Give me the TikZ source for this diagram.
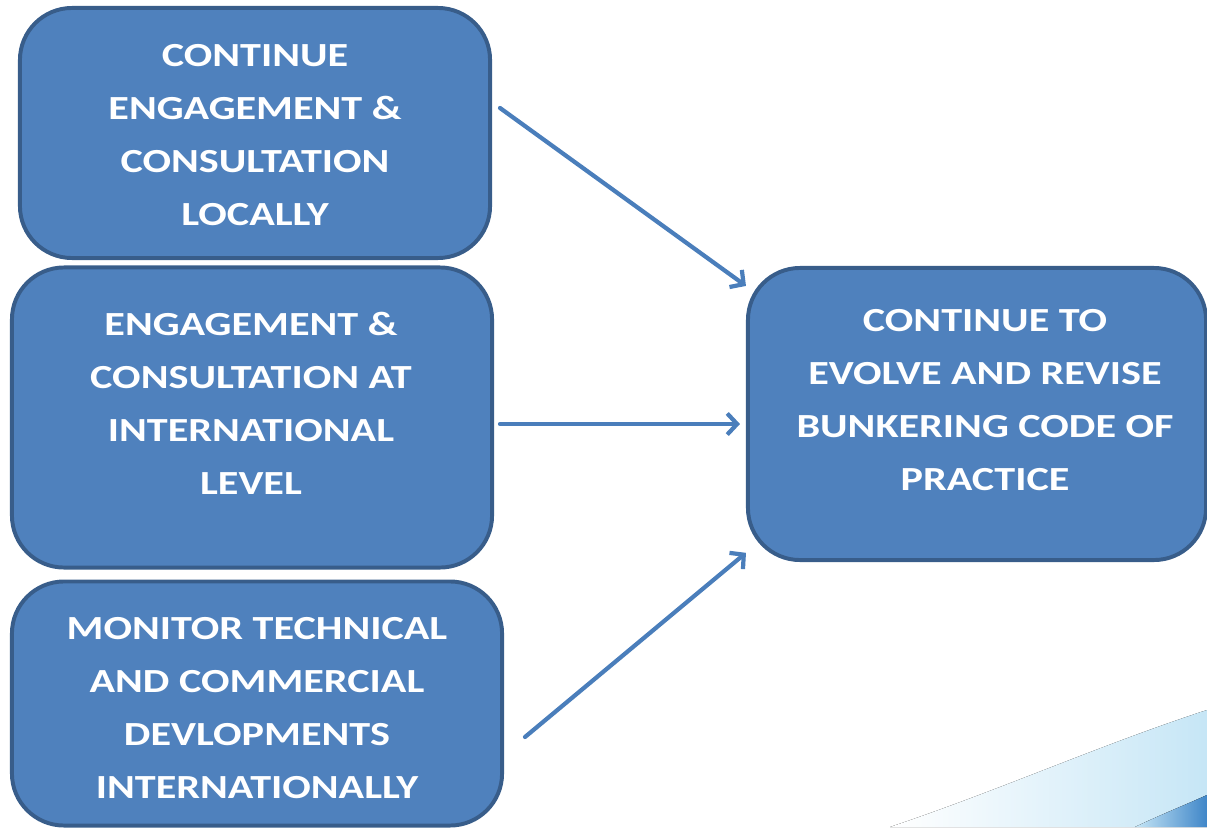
\documentclass[tikz,border=0pt]{standalone}
\usepackage{fontspec}
\setmainfont{Carlito}
\newfontfamily\boxfont{Carlito}[FakeStretch=1.25]
\usepackage{xcolor}
\usepackage{tikz}
\usetikzlibrary{arrows.meta}
\usetikzlibrary{calc}
\usetikzlibrary{positioning}
\definecolor{boxfill}{HTML}{4F81BD}
\definecolor{boxline}{HTML}{385D8A}
\definecolor{arrowblue}{HTML}{4A7EBB}
\definecolor{swoosh}{HTML}{C6E6F6}
\definecolor{swooshdark}{HTML}{3F86C8}

\begin{document}
\begin{tikzpicture}[x=0.025cm,y=-0.025cm,>={Straight Barb[length=7pt,width=15pt]}]
	\tikzstyle{box}=[draw=boxline, fill=boxfill, rounded corners=1.3cm, line width=2.8pt, inner sep=0pt]
	\tikzstyle{txt}=[text=white, font=\boxfont\fontsize{24}{37.7}\selectfont\bfseries, align=center, inner sep=0pt]
	\tikzstyle{arr}=[->, draw=arrowblue, line width=3pt, line cap=round, line join=round]
	\useasboundingbox (0,0) rectangle (1207,827);
	% swoosh in the corner
	\fill[left color=white, right color=swoosh] (890,827) .. controls (1000,790) and (1100,745) .. (1207,710) -- (1207,795) .. controls (1185,805) and (1160,815) .. (1135,827) -- cycle;
	\fill[left color=swoosh, right color=swooshdark] (1135,827) .. controls (1160,815) and (1185,805) .. (1207,795) -- (1207,827) -- cycle;
		\node[box, minimum width=11.75cm, minimum height=6.25cm]  (A) at (255,133) {};
		\node[box, minimum width=12cm, minimum height=7.5cm]      (B) at (252,417.5) {};
		\node[box, minimum width=12.25cm, minimum height=6.1cm]   (C) at (257,703.5) {};
		\node[box, minimum width=11.45cm, minimum height=7.3cm]   (D) at (977,414) {};
		\node[txt] (a) at (255,135)   {CONTINUE\\ENGAGEMENT \&\\CONSULTATION\\LOCALLY};
		\node[txt] (b) at (251,403)   {ENGAGEMENT \&\\CONSULTATION AT\\INTERNATIONAL\\LEVEL};
		\node[txt] (c) at (257,708.5) {MONITOR TECHNICAL\\AND COMMERCIAL\\DEVLOPMENTS\\INTERNATIONALLY};
		\node[txt] (d) at (985,400)   {CONTINUE TO\\EVOLVE AND REVISE\\BUNKERING CODE OF\\PRACTICE};
		\coordinate (s1) at (500,108);
		\coordinate (s2) at (500,424);
		\coordinate (s3) at (525,737);
		\draw[arr] (s1) -- (D.151);
		\draw[arr, shorten >=0.15cm] (s2) -- (s2 -| D.west);
		\draw[arr] (s3) -- (D.211);
\end{tikzpicture}
\end{document}
